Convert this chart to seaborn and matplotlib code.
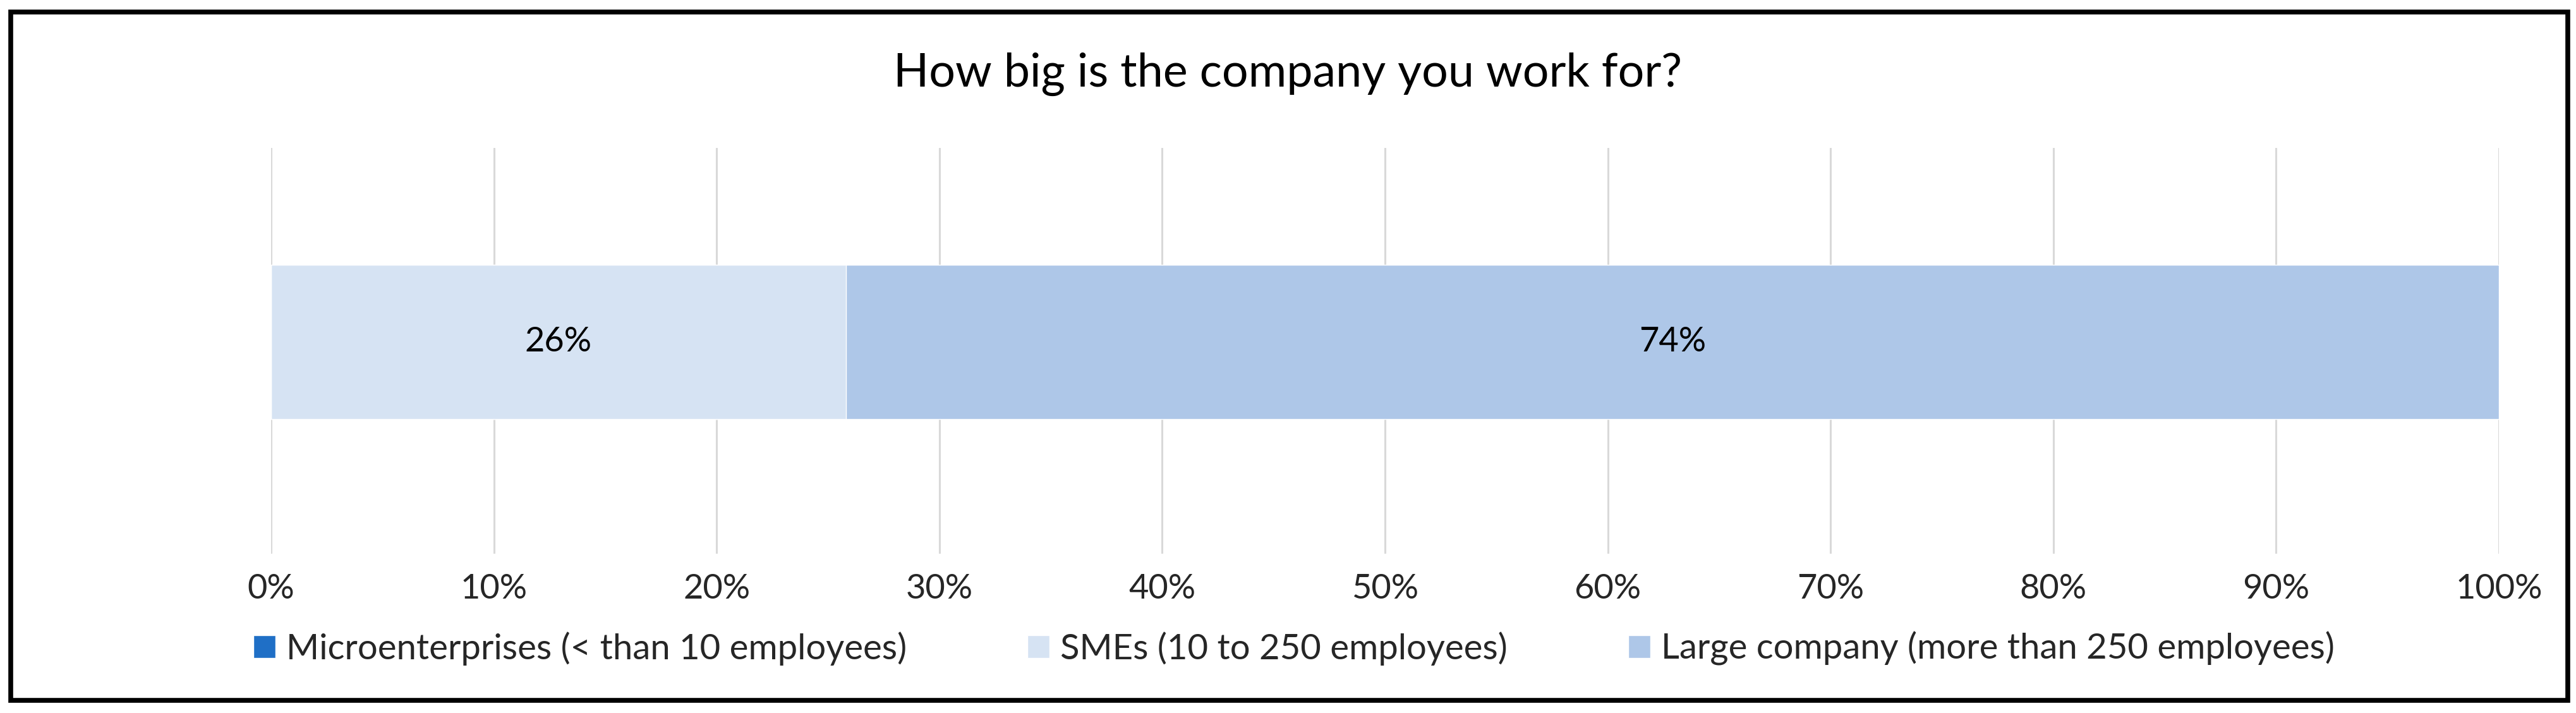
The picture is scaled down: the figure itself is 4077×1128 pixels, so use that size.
import matplotlib
matplotlib.use('Agg')
import matplotlib.pyplot as plt
import seaborn as sns
import pandas as pd
import numpy as np
from matplotlib.patches import Rectangle

# data
question = 'How big is the company you work for?'
segments = ['Microenterprises (< than 10 employees)',
            'SMEs (10 to 250 employees)',
            'Large company (more than 250 employees)']
shares = [0.0, 25.8, 74.2]
colors = ['#1F6FC6', '#D6E3F3', '#AEC7E8']
tick_values = list(range(0, 101, 10))
tick_labels = [f'{t}%' for t in tick_values]

sns.set_style('white')
plt.rcParams['font.family'] = ['Lato', 'DejaVu Sans']

W, H = 4077, 1128
fig = plt.figure(figsize=(W / 100, H / 100), dpi=100)
ax = fig.add_axes([429 / W, 1 - 876 / H, (3955 - 429) / W, (876 - 234) / H])

df = pd.DataFrame({'question': [question] * len(segments),
                   'segment': segments,
                   'share': shares})
df['cum'] = df['share'].cumsum()

# stacked bar: draw cumulative totals from the widest down
for i in reversed(range(len(df))):
    row = df.iloc[[i]]
    sns.barplot(data=row, x='cum', y='question', orient='h', color=colors[i],
                width=0.38, saturation=1, label=segments[i], ax=ax, zorder=2)

# labels in the middle of each visible segment
starts = df['cum'] - df['share']
for s, v in zip(starts, df['share']):
    if v > 0:
        ax.text(s + v / 2, 0, f'{v:.0f}%', ha='center', va='center',
                fontsize=39, color='black', zorder=3)

ax.set_xlim(0, 100)
ax.set_ylim(0.522, -0.478)
ax.set_xticks(tick_values)
ax.set_xticklabels(tick_labels, fontsize=39, color='#262626')
ax.set_yticks([])
ax.set_xlabel('')
ax.set_ylabel('')
ax.tick_params(axis='x', length=0, pad=22)
ax.grid(axis='x', color='#D9D9D9', linewidth=2.2, zorder=0)
ax.set_axisbelow(True)
for sp in ax.spines.values():
    sp.set_visible(False)

handles, labels = ax.get_legend_handles_labels()
order = [labels.index(s) for s in segments]
if ax.legend_:
    ax.legend_.remove()
fig.legend([handles[k] for k in order], [labels[k] for k in order],
           loc='center', bbox_to_anchor=(2048 / W, 1 - 1026 / H), ncol=3,
           frameon=False, fontsize=40.5, handlelength=0.62, handleheight=0.62,
           handletextpad=0.3, columnspacing=3.4, borderpad=0, borderaxespad=0)

fig.text(0.5, 1 - 117 / H, question, ha='center', va='center', fontsize=53, color='black')

fig.patches.append(Rectangle((16.5 / W, 1 - 1108 / H), (4064 - 16.5) / W, (1108 - 19) / H,
                             transform=fig.transFigure, fill=False, edgecolor='black',
                             linewidth=5.5, zorder=10))

fig.savefig('out.png', dpi=100, facecolor='white')
